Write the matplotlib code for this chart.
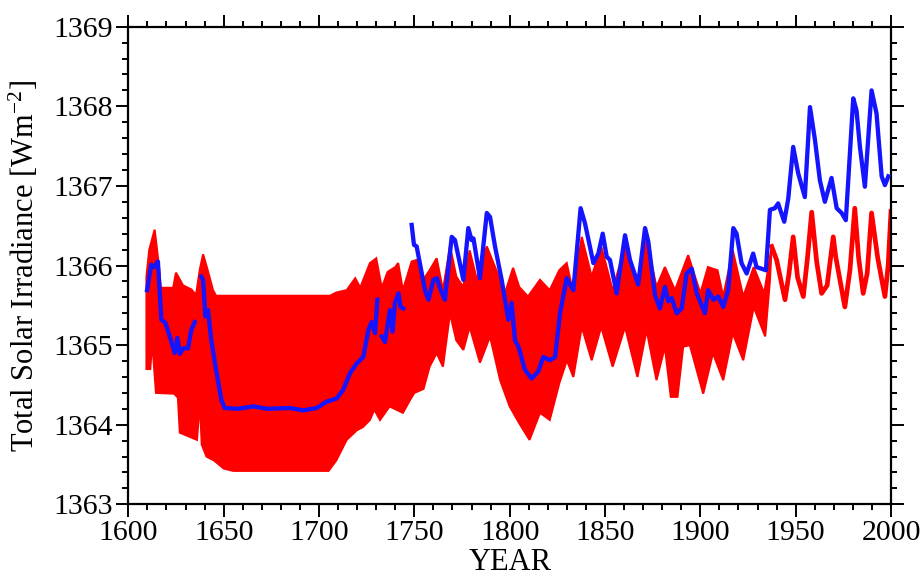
import numpy as np
import matplotlib.pyplot as plt
from matplotlib.ticker import MultipleLocator

plt.rcParams['font.family'] = ['Liberation Serif', 'DejaVu Serif']
plt.rcParams['mathtext.fontset'] = 'stix'

# reconstruction band (annual cycle), upper and lower edges
band_up_year = [1609.5, 1611.0, 1613.8, 1616.0, 1617.0, 1623.5, 1625.0, 1628.7, 1633.0, 1635.5,
                1637.5, 1639.2, 1641.5, 1644.4, 1646.0, 1705.8, 1709.0, 1714.5, 1719.0, 1721.6,
                1726.7, 1730.0, 1732.9, 1736.0, 1740.0, 1741.5, 1744.0, 1748.6, 1751.3, 1754.7,
                1758.0, 1761.7, 1765.0, 1768.7, 1772.0, 1775.7, 1779.0, 1782.8, 1788.0, 1793.0,
                1797.5, 1801.8, 1805.0, 1809.6, 1815.9, 1821.0, 1826.0, 1829.9, 1833.4, 1837.8,
                1843.0, 1848.0, 1854.0, 1860.5, 1866.6, 1871.8, 1877.0, 1881.4, 1886.7, 1893.6,
                1900.0, 1904.0, 1909.0, 1912.0, 1917.0, 1922.5, 1928.0, 1933.5, 1937.4]
band_up = [1365.86, 1366.20, 1366.45, 1366.00, 1365.72, 1365.72, 1365.91, 1365.75, 1365.70, 1365.63,
           1365.95, 1366.14, 1365.95, 1365.69, 1365.62, 1365.62, 1365.66, 1365.69, 1365.84, 1365.72,
           1366.03, 1366.09, 1365.72, 1365.92, 1365.98, 1366.03, 1365.69, 1366.05, 1366.07, 1365.82,
           1365.94, 1366.09, 1365.69, 1366.24, 1365.86, 1365.73, 1366.19, 1365.82, 1366.24, 1365.94,
           1365.65, 1365.97, 1365.73, 1365.61, 1365.82, 1365.69, 1365.94, 1366.03, 1365.65, 1366.36,
           1365.86, 1366.24, 1365.69, 1366.24, 1365.78, 1366.32, 1365.73, 1365.98, 1365.69, 1366.13,
           1365.65, 1365.98, 1365.94, 1365.61, 1366.19, 1365.61, 1365.98, 1365.65, 1366.24]

band_lo_year = [1609.5, 1611.5, 1612.5, 1614.5, 1624.0, 1626.0, 1627.0, 1636.0, 1637.5, 1638.5,
                1641.0, 1645.0, 1650.0, 1655.0, 1705.0, 1709.0, 1714.5, 1719.8, 1723.0, 1726.7,
                1729.0, 1732.0, 1737.0, 1744.0, 1747.7, 1750.0, 1754.8, 1758.0, 1761.7, 1765.0,
                1768.7, 1772.0, 1775.7, 1779.0, 1784.4, 1789.7, 1795.0, 1800.0, 1805.0, 1810.4,
                1815.9, 1821.0, 1826.0, 1830.0, 1833.4, 1837.8, 1843.0, 1848.0, 1854.0, 1860.5,
                1867.0, 1871.8, 1877.0, 1881.4, 1884.5, 1888.0, 1891.0, 1894.5, 1901.5, 1906.6,
                1912.0, 1917.0, 1922.5, 1928.0, 1934.0, 1936.5, 1937.4]
band_lo = [1364.70, 1364.70, 1365.05, 1364.40, 1364.39, 1364.34, 1363.90, 1363.81, 1364.30, 1363.75,
           1363.60, 1363.55, 1363.45, 1363.42, 1363.42, 1363.55, 1363.81, 1363.93, 1363.97, 1364.06,
           1364.19, 1364.06, 1364.23, 1364.15, 1364.31, 1364.40, 1364.45, 1364.73, 1364.90, 1364.73,
           1365.40, 1365.06, 1364.94, 1365.23, 1364.78, 1365.11, 1364.56, 1364.23, 1364.02, 1363.81,
           1364.15, 1364.06, 1364.52, 1364.81, 1364.60, 1365.23, 1364.81, 1365.23, 1364.73, 1365.23,
           1364.60, 1365.19, 1364.56, 1364.98, 1364.35, 1364.35, 1364.98, 1365.00, 1364.39, 1364.90,
           1364.56, 1365.15, 1364.81, 1365.48, 1365.11, 1365.82, 1366.24]

# reconstruction after 1937 (single curve)
red_year = [1937.4, 1940.0, 1944.4, 1946.5, 1948.7, 1951.0, 1954.0, 1956.2, 1958.4, 1961.0,
            1963.6, 1966.5, 1969.7, 1971.0, 1975.8, 1978.5, 1981.0, 1983.0, 1985.4, 1987.5,
            1989.8, 1993.0, 1996.8, 1998.5, 2000.0]
red_val = [1366.24, 1366.07, 1365.57, 1365.90, 1366.36, 1365.85, 1365.61, 1366.10, 1366.67, 1366.05,
           1365.65, 1365.75, 1366.36, 1366.11, 1365.48, 1365.95, 1366.72, 1366.10, 1365.65, 1365.90,
           1366.66, 1366.10, 1365.61, 1366.00, 1366.68]

# second reconstruction, NaN marks gaps
blue_year = [1609.8, 1612.0, 1613.5, 1615.5, 1617.3, 1619.4, 1621.7, 1624.3, 1625.7, 1627.0,
             1628.7, 1631.3, 1633.0, 1634.8, 1636.5,
             1638.3, 1639.2, 1640.4, 1641.8, 1643.5, 1646.0, 1648.8, 1650.5, 1657.5, 1665.4,
             1673.0, 1684.8, 1691.8, 1698.8, 1704.0, 1709.3, 1712.7, 1716.3, 1719.8, 1723.2,
             1725.9, 1727.6, 1729.4, 1730.6, 1731.8,
             1732.9, 1734.6, 1737.2, 1738.6, 1739.8, 1741.7, 1742.8, 1744.2, 1746.5,
             1748.6, 1749.8, 1751.2, 1755.6, 1757.4, 1760.0, 1761.8, 1763.5, 1766.0, 1769.6,
             1771.3, 1775.7, 1778.3, 1780.0, 1781.0, 1784.4, 1788.0, 1789.7, 1792.3, 1795.8,
             1799.3, 1801.0, 1802.8, 1804.6, 1808.0, 1811.5, 1815.0, 1817.6, 1821.1, 1823.8,
             1826.4, 1829.9, 1833.4, 1835.1, 1837.2, 1839.5, 1843.9, 1846.5, 1848.8, 1850.9,
             1852.6, 1856.1, 1860.5, 1863.1, 1867.4, 1871.0, 1872.7, 1876.2, 1878.8, 1881.4,
             1883.2, 1885.0, 1887.6, 1890.2, 1892.8, 1895.5, 1898.1, 1902.4, 1904.1, 1906.8,
             1909.4, 1912.0, 1914.6, 1917.3, 1919.0, 1921.6, 1924.3, 1927.7, 1929.5, 1932.1,
             1934.4, 1936.5, 1939.1, 1940.8, 1944.0, 1946.1, 1948.7, 1951.3, 1954.8, 1957.5,
             1960.1, 1962.7, 1965.3, 1968.8, 1971.5, 1974.1, 1976.3, 1980.2, 1981.9, 1983.7,
             1986.3, 1989.8, 1992.4, 1995.1, 1996.8, 1998.6]
blue_val = [1365.69, 1366.01, 1365.98, 1366.05, 1365.32, 1365.28, 1365.11, 1364.90, 1365.09, 1364.89,
            1364.96, 1364.96, 1365.19, 1365.29, np.nan,
            1365.86, 1365.82, 1365.36, 1365.44, 1365.06, 1364.69, 1364.31, 1364.21, 1364.20, 1364.23,
            1364.20, 1364.21, 1364.18, 1364.21, 1364.29, 1364.33, 1364.44, 1364.65, 1364.77, 1364.85,
            1365.19, 1365.29, 1365.15, 1365.57, np.nan,
            1365.11, 1365.04, 1365.44, 1365.17, 1365.53, 1365.65, 1365.48, 1365.46, np.nan,
            1366.51, 1366.26, 1366.24, 1365.69, 1365.57, 1365.82, 1365.84, 1365.71, 1365.57, 1366.36,
            1366.32, 1365.82, 1366.47, 1366.32, 1366.34, 1365.84, 1366.66, 1366.61, 1366.24, 1365.82,
            1365.32, 1365.53, 1365.06, 1364.98, 1364.69, 1364.58, 1364.67, 1364.85, 1364.81, 1364.85,
            1365.40, 1365.84, 1365.69, 1366.15, 1366.72, 1366.53, 1366.03, 1366.15, 1366.40, 1366.11,
            1366.07, 1365.65, 1366.38, 1366.07, 1365.76, 1366.47, 1366.30, 1365.63, 1365.46, 1365.73,
            1365.55, 1365.59, 1365.40, 1365.46, 1365.90, 1365.96, 1365.65, 1365.40, 1365.69, 1365.57,
            1365.61, 1365.48, 1365.69, 1366.47, 1366.40, 1366.03, 1365.90, 1366.15, 1365.98, 1365.96,
            1365.94, 1366.70, 1366.72, 1366.78, 1366.55, 1366.84, 1367.49, 1367.16, 1366.86, 1367.99,
            1367.58, 1367.07, 1366.80, 1367.10, 1366.72, 1366.66, 1366.57, 1368.10, 1367.95, 1367.49,
            1366.99, 1368.20, 1367.91, 1367.12, 1367.01, 1367.12]

fig = plt.figure(figsize=(9.24, 5.81), dpi=100)
ax = fig.add_axes([0.1389, 0.132, 0.8254, 0.822])

# red band as a closed polygon: upper edge left->right, lower edge right->left
poly_x = np.r_[band_up_year, band_lo_year[::-1]]
poly_y = np.r_[band_up, band_lo[::-1]]
ax.fill(poly_x, poly_y, color='#ff0000', lw=1.5, edgecolor='#ff0000', zorder=2)
ax.plot(red_year, red_val, color='#ff0000', lw=3.4, solid_joinstyle='round', zorder=2)

ax.plot(blue_year, blue_val, color='#1414ff', lw=3.1, solid_joinstyle='round', zorder=3)

ax.set_xlim(1600, 2000)
ax.set_ylim(1363, 1369)
ax.xaxis.set_major_locator(MultipleLocator(50))
ax.xaxis.set_minor_locator(MultipleLocator(10))
ax.yaxis.set_major_locator(MultipleLocator(1))
ax.yaxis.set_minor_locator(MultipleLocator(0.2))
ax.tick_params(which='both', direction='out', top=True, right=True, width=1.4,
               labelsize=21.5, pad=2)
ax.tick_params(which='major', length=9)
ax.tick_params(which='minor', length=4.5)
for s in ax.spines.values():
    s.set_linewidth(1.6)

ax.set_xlabel('YEAR', fontsize=22, labelpad=2)
ax.set_ylabel(r'Total Solar Irradiance [Wm$^{\mathregular{-2}}$]', fontsize=22, labelpad=9)

fig.savefig('out.png', dpi=100)
